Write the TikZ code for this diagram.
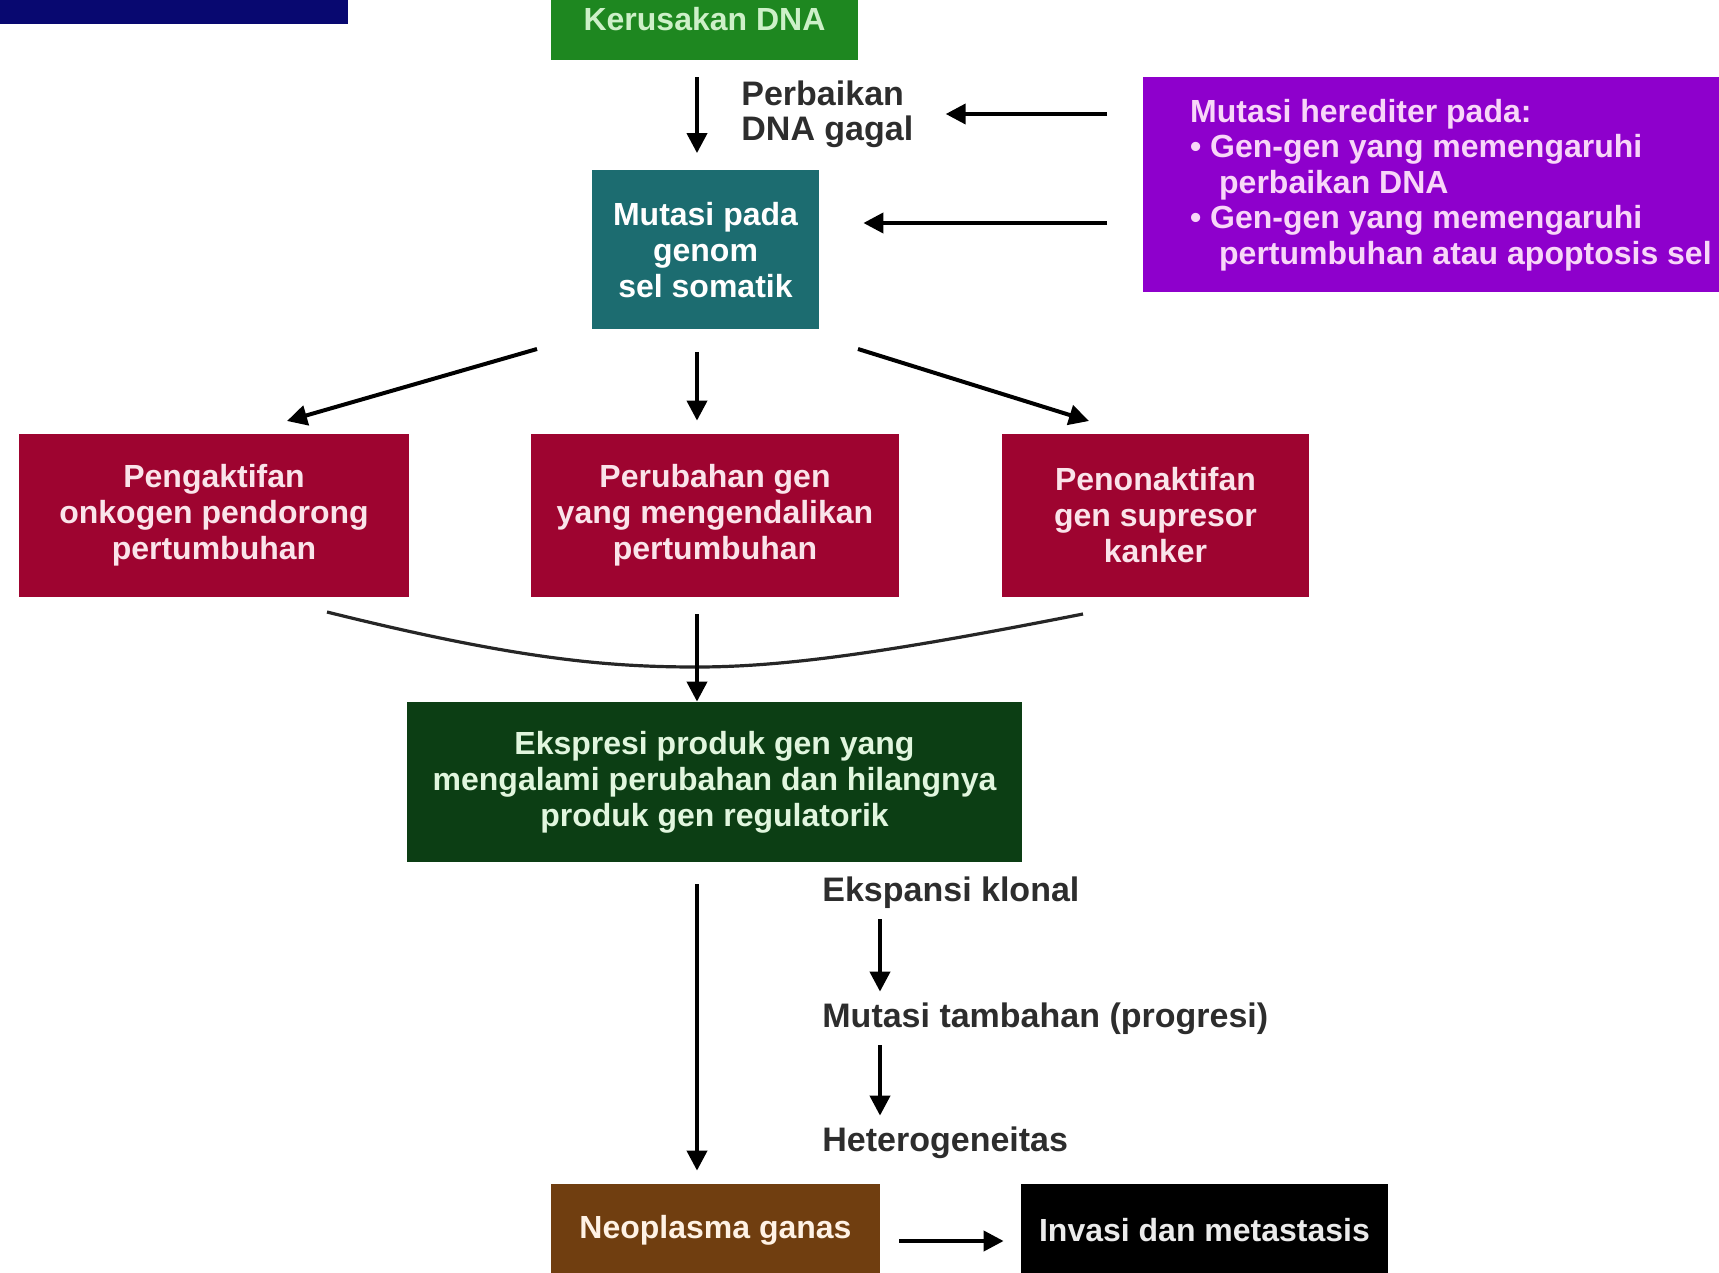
\documentclass[tikz,border=0pt]{standalone}
\usepackage{fontspec}
\setmainfont{Liberation Sans}
\usetikzlibrary{arrows.meta}

\definecolor{navybar}{RGB}{8,8,112}
\definecolor{dnagreen}{RGB}{30,135,32}
\definecolor{dnatext}{RGB}{205,240,200}
\definecolor{genomteal}{RGB}{28,108,112}
\definecolor{genred}{RGB}{158,4,48}
\definecolor{redtext}{RGB}{250,228,234}
\definecolor{herepurple}{RGB}{142,0,204}
\definecolor{puretext}{RGB}{248,214,248}
\definecolor{ekspgreen}{RGB}{12,62,20}
\definecolor{neobrown}{RGB}{112,62,16}
\definecolor{labelgray}{RGB}{45,45,45}

\begin{document}
\begin{tikzpicture}[x=0.5pt,y=-0.5pt,
    box/.style={rectangle, inner sep=0pt, align=center, text=white,
      font=\fontsize{16}{18}\selectfont\bfseries},
    lbl/.style={anchor=west, align=left, inner sep=0pt, text=labelgray,
      text height=12.5pt, text depth=3.5pt,
      font=\fontsize{17}{17.5}\selectfont\bfseries},
    arr/.style={-{Triangle[length=10pt,width=10pt]}, line width=2pt},
    merge/.style={line width=1.6pt, draw=black!85}]
    \useasboundingbox (0,0) rectangle (1719,1273);
    \clip (0,0) rectangle (1719,1273);

    % sisa judul slide
    \fill[navybar] (0,-10) rectangle (348,24);

    \coordinate (axis) at (697,0);
    \coordinate (col2) at (880,0);

    \node[box, fill=dnagreen, text=dnatext, minimum width=153.5pt, minimum height=41pt]
      (kerusakan) at (704.5,19) {Kerusakan DNA};
    \node[box, fill=genomteal, minimum width=113.5pt, minimum height=79.5pt]
      (mutasi) at (705.5,250) {Mutasi pada\\genom\\sel somatik};
    \node[lbl] (perbaikan) at (741,132) {Perbaikan\\DNA gagal};
    \node[box, anchor=north west, fill=herepurple, text=puretext, align=left,
      minimum width=307.5pt, minimum height=107.5pt,
      font=\fontsize{16}{17.75}\selectfont\bfseries]
      (herediter) at (1143,77) {Mutasi herediter pada:\\
      \textbullet\ Gen-gen yang memengaruhi\\
      \hspace*{14.5pt}perbaikan DNA\\
      \textbullet\ Gen-gen yang memengaruhi\\
      \hspace*{14.5pt}pertumbuhan atau apoptosis sel};

    \node[box, fill=genred, text=redtext, minimum width=195pt, minimum height=81.5pt]
      (onkogen) at (214,515.5) {Pengaktifan\\onkogen pendorong\\pertumbuhan};
    \node[box, fill=genred, text=redtext, minimum width=184pt, minimum height=81.5pt]
      (genmid) at (715,515.5) {Perubahan gen\\yang mengendalikan\\pertumbuhan};
    \node[box, fill=genred, text=redtext, minimum width=153.5pt, minimum height=81.5pt]
      (supresor) at (1155.5,515.5) {Penonaktifan\\gen supresor\\kanker};

    \node[box, fill=ekspgreen, text=dnatext!60!white, minimum width=307.5pt, minimum height=80pt]
      (ekspresi) at (714.5,782) {Ekspresi produk gen yang\\mengalami perubahan dan hilangnya\\produk gen regulatorik};

    \node[lbl] (klonal) at (822,892) {Ekspansi klonal};
    \node[lbl] (progresi) at (822,1018) {Mutasi tambahan (progresi)};
    \node[lbl] (hetero) at (822,1142) {Heterogeneitas};

    \node[box, fill=neobrown, text=orange!10!white, minimum width=164.5pt, minimum height=46pt]
      (neoplasma) at (715.5,1230) {Neoplasma ganas};
    \node[box, fill=black, text=black!8, minimum width=183.5pt, minimum height=46pt]
      (invasi) at (1204.5,1230) {Invasi dan metastasis};

    % panah
    \draw[arr, shorten <=8.5pt, shorten >=8.5pt] (kerusakan.south -| axis) -- (mutasi.north -| axis);
    \coordinate (hA) at (1143,114);
    \coordinate (hB) at (1143,223);
    \draw[arr, shorten <=18pt, shorten >=16pt] (hA) -- (hA -| perbaikan.east);
    \draw[arr, shorten <=18pt, shorten >=22pt] (hB) -- (hB -| mutasi.east);

    \coordinate (sL) at (537,349);
    \coordinate (tL) at (287,421);
    \coordinate (sR) at (858,349);
    \coordinate (tR) at (1089,421);
    \draw[arr] (sL) -- (tL);
    \draw[arr, shorten <=11pt, shorten >=6.5pt] (mutasi.south -| axis) -- (genmid.north -| axis);
    \draw[arr] (sR) -- (tR);

    \coordinate (cL) at (327,612);
    \coordinate (cM) at (697,667);
    \coordinate (cR) at (1083,614);
    \draw[merge] (cL) .. controls (520,660) and (610,667) .. (cM)
      .. controls (790,667) and (900,650) .. (cR);
    \draw[arr, shorten <=8.5pt] (genmid.south -| axis) -- (ekspresi.north -| axis);
    \draw[arr, shorten <=11pt, shorten >=6.5pt] (ekspresi.south -| axis) -- (neoplasma.north -| axis);

    \draw[arr, shorten <=5.5pt, shorten >=5pt] (klonal.south -| col2) -- (progresi.north -| col2);
    \draw[arr, shorten <=5.5pt, shorten >=5pt] (progresi.south -| col2) -- (hetero.north -| col2);

    \draw[arr, shorten <=9.5pt, shorten >=8.5pt] ([yshift=-5.5pt]neoplasma.east) -- ([yshift=-5.5pt]invasi.west);
  \end{tikzpicture}
\end{document}
